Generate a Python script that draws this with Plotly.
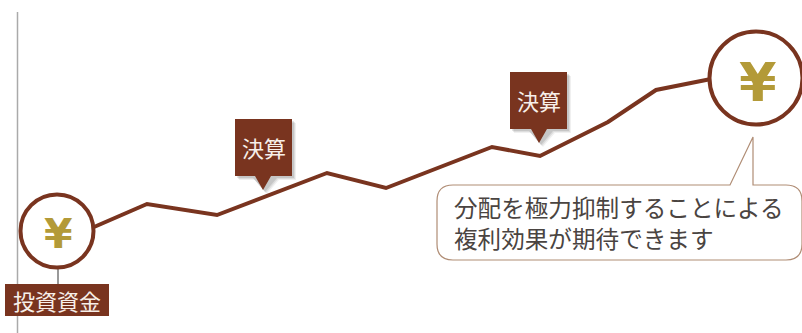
import plotly.graph_objects as go

# Growth path of the investment
path_x = [94, 147, 217, 327, 386, 492, 540, 608, 656, 711]
path_y = [106, 129, 118, 160, 145, 186, 177, 211, 243, 254]

BROWN = "#79341f"
GOLD = "#b39a38"
BORDER = "#b08d75"
TEXT = "#4a4441"
JP = "Noto Sans CJK JP"

start_circle = (57, 102, 36.5)
end_circle = (756, 255, 46.5)
settlements = [("決算", 235, 292, 214, 157, 263), ("決算", 510, 567, 261, 204, 539)]
note_lines = ["分配を極力抑制することによる", "複利効果が期待できます"]
start_label = "投資資金"

fig = go.Figure()
shapes = []
annotations = []


def text(x, y, s, size, color, xanchor="center", font=JP, align="center"):
    annotations.append(dict(x=x, y=y, text=s, showarrow=False, xanchor=xanchor, yanchor="middle", align=align,
                            font=dict(family=font, size=size, color=color)))


# Vertical baseline and the stem under the starting coin
shapes.append(dict(type="line", x0=17.5, x1=17.5, y0=0, y1=321, line=dict(color="#aaaaaa", width=1.5)))
shapes.append(dict(type="line", x0=58, x1=58, y0=48, y1=66, line=dict(color="#777777", width=1.5)))

# Path drawn as a regular scatter series
fig.add_trace(go.Scatter(x=path_x, y=path_y, mode="lines", hoverinfo="skip",
                         line=dict(color=BROWN, width=4, shape="linear")))

# Coins
for cx, cy, r in (start_circle, end_circle):
    shapes.append(dict(type="circle", x0=cx - r, x1=cx + r, y0=cy - r, y1=cy + r,
                       line=dict(color=BROWN, width=4), fillcolor="white", layer="above"))
text(start_circle[0] + 1, start_circle[1] - 2.5, "<b>¥</b>", 41, GOLD, font="DejaVu Sans")
text(end_circle[0] + 1.5, end_circle[1] - 4, "<b>¥</b>", 54, GOLD, font="DejaVu Sans")

# Settlement flags with a soft shadow
for label, x0, x1, top, bottom, tip in settlements:
    for off, alpha in ((4, 0.06), (3, 0.08), (2, 0.10)):
        shapes.append(dict(type="path", layer="above", line=dict(width=0),
                           fillcolor=f"rgba(0,0,0,{alpha})",
                           path=f"M{x0 + off},{top - off} L{x1 + off},{top - off} L{x1 + off},{bottom - off} "
                                f"L{tip + 12 + off},{bottom - off} L{tip + off},{bottom - 14 - off} "
                                f"L{tip - 12 + off},{bottom - off} L{x0 + off},{bottom - off} Z"))
    shapes.append(dict(type="path", layer="above", line=dict(width=0), fillcolor=BROWN,
                       path=f"M{x0},{top} L{x1},{top} L{x1},{bottom} L{tip + 8},{bottom} "
                            f"L{tip},{bottom - 14} L{tip - 8},{bottom} L{x0},{bottom} Z"))
    text((x0 + x1) / 2, (top + bottom) / 2 + 1, label, 22, "#f7efe9")

# Starting amount label
shapes.append(dict(type="rect", x0=5, x1=109, y0=17, y1=49, fillcolor=BROWN,
                   line=dict(width=0), layer="above"))
text(57, 33.5, start_label, 22, "#f7efe9")

# Speech bubble pointing at the final coin
L, R, T, B, rad = 437, 802, 148, 73, 16
shapes.append(dict(type="path", layer="above", fillcolor="white", line=dict(color=BORDER, width=1.2),
                   path=f"M{L + rad},{T} L730,{T} L753,196 L753,{T} L{R - rad},{T} "
                        f"Q{R},{T} {R},{T - rad} L{R},{B + rad} Q{R},{B} {R - rad},{B} "
                        f"L{L + rad},{B} Q{L},{B} {L},{B + rad} L{L},{T - rad} Q{L},{T} {L + rad},{T} Z"))
text(452, 111, "<br>".join(note_lines), 23.6, TEXT, xanchor="left", align="left")

fig.update_layout(
    width=802, height=333, margin=dict(l=0, r=0, t=0, b=0),
    paper_bgcolor="white", plot_bgcolor="white", showlegend=False,
    xaxis=dict(range=[0, 802], visible=False, fixedrange=True),
    yaxis=dict(range=[0, 333], visible=False, fixedrange=True),
    shapes=shapes, annotations=annotations,
)
fig.write_html("out.html", config=dict(displayModeBar=False))
